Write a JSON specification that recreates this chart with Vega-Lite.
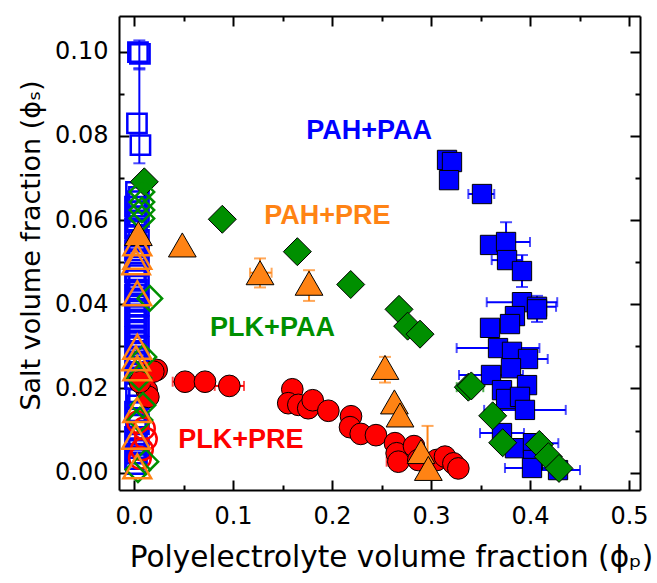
{
  "$schema": "https://vega.github.io/schema/vega-lite/v6.json",
  "width": 521,
  "height": 474,
  "autosize": {"type": "none"},
  "padding": {"left": 119, "top": 16, "right": 17, "bottom": 93},
  "background": "white",
  "config": {
    "view": {"stroke": null},
    "axis": {
      "domainColor": "black", "domainWidth": 2, "tickColor": "black", "tickWidth": 2,
      "labelFont": "DejaVu Sans", "labelFontSize": 24, "labelColor": "black",
      "titleFont": "DejaVu Sans", "titleFontSize": 28, "titleFontWeight": "normal", "titleColor": "black",
      "grid": false, "labelOverlap": false, "labelFlush": false
    }
  },
  "datasets": {
    "pts": [
      {"s":"PAH+PAA","o":0,"x":0.3162,"y":0.0743},{"s":"PAH+PAA","o":0,"x":0.3212,"y":0.0738},{"s":"PAH+PAA","o":0,"x":0.3182,"y":0.0695},
      {"s":"PAH+PAA","o":0,"x":0.3515,"y":0.0662},{"s":"PAH+PAA","o":0,"x":0.3596,"y":0.0541},{"s":"PAH+PAA","o":0,"x":0.3758,"y":0.0548},
      {"s":"PAH+PAA","o":0,"x":0.3768,"y":0.0505},{"s":"PAH+PAA","o":0,"x":0.3919,"y":0.0479},{"s":"PAH+PAA","o":0,"x":0.3919,"y":0.0405},
      {"s":"PAH+PAA","o":0,"x":0.4071,"y":0.0394},{"s":"PAH+PAA","o":0,"x":0.4071,"y":0.0388},{"s":"PAH+PAA","o":0,"x":0.3848,"y":0.0372},
      {"s":"PAH+PAA","o":0,"x":0.3596,"y":0.0344},{"s":"PAH+PAA","o":0,"x":0.3798,"y":0.0353},{"s":"PAH+PAA","o":0,"x":0.3677,"y":0.0296},
      {"s":"PAH+PAA","o":0,"x":0.3818,"y":0.0287},{"s":"PAH+PAA","o":0,"x":0.398,"y":0.027},{"s":"PAH+PAA","o":0,"x":0.3808,"y":0.0248},
      {"s":"PAH+PAA","o":0,"x":0.3606,"y":0.0232},{"s":"PAH+PAA","o":0,"x":0.397,"y":0.0208},{"s":"PAH+PAA","o":0,"x":0.3717,"y":0.0196},
      {"s":"PAH+PAA","o":0,"x":0.3758,"y":0.0175},{"s":"PAH+PAA","o":0,"x":0.3899,"y":0.018},{"s":"PAH+PAA","o":0,"x":0.3949,"y":0.0149},
      {"s":"PAH+PAA","o":0,"x":0.3717,"y":0.0094},{"s":"PAH+PAA","o":0,"x":0.3848,"y":0.0058},{"s":"PAH+PAA","o":0,"x":0.403,"y":0.007},
      {"s":"PAH+PAA","o":0,"x":0.403,"y":0.003},{"s":"PAH+PAA","o":0,"x":0.402,"y":0.0011},{"s":"PAH+PAA","o":0,"x":0.4283,"y":0.0006},
      {"s":"PAH+PAA","o":1,"x":0.004,"y":0.0999},{"s":"PAH+PAA","o":1,"x":0.006,"y":0.0995},{"s":"PAH+PAA","o":1,"x":0.003,"y":0.083},
      {"s":"PAH+PAA","o":1,"x":0.0065,"y":0.0778},{"s":"PAH+PAA","o":1,"x":0.002,"y":0.0667},{"s":"PAH+PAA","o":1,"x":0.003,"y":0.0645},
      {"s":"PAH+PAA","o":1,"x":0.002,"y":0.062},{"s":"PAH+PAA","o":1,"x":0.003,"y":0.0595},{"s":"PAH+PAA","o":1,"x":0.002,"y":0.0565},
      {"s":"PAH+PAA","o":1,"x":0.003,"y":0.054},{"s":"PAH+PAA","o":1,"x":0.002,"y":0.0515},{"s":"PAH+PAA","o":1,"x":0.003,"y":0.049},
      {"s":"PAH+PAA","o":1,"x":0.002,"y":0.046},{"s":"PAH+PAA","o":1,"x":0.003,"y":0.0435},{"s":"PAH+PAA","o":1,"x":0.002,"y":0.041},
      {"s":"PAH+PAA","o":1,"x":0.003,"y":0.0385},{"s":"PAH+PAA","o":1,"x":0.002,"y":0.036},{"s":"PAH+PAA","o":1,"x":0.003,"y":0.0335},
      {"s":"PAH+PAA","o":1,"x":0.002,"y":0.031},{"s":"PAH+PAA","o":1,"x":0.003,"y":0.0285},{"s":"PAH+PAA","o":1,"x":0.002,"y":0.026},
      {"s":"PAH+PAA","o":1,"x":0.003,"y":0.0235},{"s":"PAH+PAA","o":1,"x":0.002,"y":0.019},{"s":"PAH+PAA","o":1,"x":0.003,"y":0.016},
      {"s":"PAH+PAA","o":1,"x":0.002,"y":0.013},{"s":"PAH+PAA","o":1,"x":0.003,"y":0.01},{"s":"PAH+PAA","o":1,"x":0.002,"y":0.007},
      {"s":"PAH+PAA","o":1,"x":0.003,"y":0.0045},{"s":"PAH+PAA","o":1,"x":0.002,"y":0.002},
      {"s":"PAH+PAA","o":1,"x":0.005,"y":0.0655},{"s":"PAH+PAA","o":1,"x":0.001,"y":0.0632},{"s":"PAH+PAA","o":1,"x":0.005,"y":0.0608},
      {"s":"PAH+PAA","o":1,"x":0.001,"y":0.058},{"s":"PAH+PAA","o":1,"x":0.005,"y":0.0553},{"s":"PAH+PAA","o":1,"x":0.001,"y":0.0528},
      {"s":"PAH+PAA","o":1,"x":0.005,"y":0.0503},{"s":"PAH+PAA","o":1,"x":0.001,"y":0.0475},{"s":"PAH+PAA","o":1,"x":0.005,"y":0.0448},
      {"s":"PAH+PAA","o":1,"x":0.001,"y":0.0422},{"s":"PAH+PAA","o":1,"x":0.005,"y":0.0397},{"s":"PAH+PAA","o":1,"x":0.001,"y":0.0372},
      {"s":"PAH+PAA","o":1,"x":0.005,"y":0.0348},{"s":"PAH+PAA","o":1,"x":0.001,"y":0.0322},{"s":"PAH+PAA","o":1,"x":0.005,"y":0.0298},
      {"s":"PAH+PAA","o":1,"x":0.001,"y":0.0272},{"s":"PAH+PAA","o":1,"x":0.005,"y":0.0248},{"s":"PAH+PAA","o":1,"x":0.001,"y":0.0222},
      {"s":"PAH+PAA","o":1,"x":0.005,"y":0.0175},{"s":"PAH+PAA","o":1,"x":0.001,"y":0.0145},{"s":"PAH+PAA","o":1,"x":0.005,"y":0.0115},
      {"s":"PAH+PAA","o":1,"x":0.001,"y":0.0085},{"s":"PAH+PAA","o":1,"x":0.005,"y":0.0058},{"s":"PAH+PAA","o":1,"x":0.001,"y":0.0032},
      {"s":"PLK+PRE","o":0,"x":0.0515,"y":0.0216},{"s":"PLK+PRE","o":0,"x":0.0717,"y":0.0216},{"s":"PLK+PRE","o":0,"x":0.0963,"y":0.0206},
      {"s":"PLK+PRE","o":0,"x":0.1599,"y":0.0198},{"s":"PLK+PRE","o":0,"x":0.1558,"y":0.0165},{"s":"PLK+PRE","o":0,"x":0.166,"y":0.0161},
      {"s":"PLK+PRE","o":0,"x":0.176,"y":0.0153},{"s":"PLK+PRE","o":0,"x":0.1805,"y":0.0172},{"s":"PLK+PRE","o":0,"x":0.1963,"y":0.0147},
      {"s":"PLK+PRE","o":0,"x":0.2192,"y":0.0134},{"s":"PLK+PRE","o":0,"x":0.2182,"y":0.0108},{"s":"PLK+PRE","o":0,"x":0.229,"y":0.0092},
      {"s":"PLK+PRE","o":0,"x":0.2444,"y":0.0089},{"s":"PLK+PRE","o":0,"x":0.2636,"y":0.007},{"s":"PLK+PRE","o":0,"x":0.2653,"y":0.0046},
      {"s":"PLK+PRE","o":0,"x":0.267,"y":0.0026},{"s":"PLK+PRE","o":0,"x":0.2828,"y":0.0063},{"s":"PLK+PRE","o":0,"x":0.2872,"y":0.003},
      {"s":"PLK+PRE","o":0,"x":0.3057,"y":0.003},{"s":"PLK+PRE","o":0,"x":0.3141,"y":0.0038},{"s":"PLK+PRE","o":0,"x":0.3226,"y":0.0022},
      {"s":"PLK+PRE","o":0,"x":0.3276,"y":0.001},{"s":"PLK+PRE","o":0,"x":0.0229,"y":0.0244},{"s":"PLK+PRE","o":0,"x":0.0195,"y":0.024},
      {"s":"PLK+PRE","o":0,"x":0.0128,"y":0.0196},{"s":"PLK+PRE","o":0,"x":0.0145,"y":0.018},{"s":"PLK+PRE","o":0,"x":0.006,"y":0.0215},
      {"s":"PLK+PRE","o":1,"x":0.01,"y":0.0105},{"s":"PLK+PRE","o":1,"x":0.012,"y":0.008},{"s":"PLK+PRE","o":1,"x":0.008,"y":0.0055},
      {"s":"PLK+PRE","o":1,"x":0.004,"y":0.012},{"s":"PLK+PRE","o":1,"x":0.006,"y":0.0035},{"s":"PLK+PRE","o":1,"x":0.011,"y":0.0235},
      {"s":"PLK+PAA","o":0,"x":0.0104,"y":0.0691},{"s":"PLK+PAA","o":0,"x":0.0892,"y":0.0602},{"s":"PLK+PAA","o":0,"x":0.165,"y":0.0525},
      {"s":"PLK+PAA","o":0,"x":0.2189,"y":0.0447},{"s":"PLK+PAA","o":0,"x":0.2677,"y":0.0388},{"s":"PLK+PAA","o":0,"x":0.2764,"y":0.0348},
      {"s":"PLK+PAA","o":0,"x":0.2889,"y":0.0329},{"s":"PLK+PAA","o":0,"x":0.3377,"y":0.0203},{"s":"PLK+PAA","o":0,"x":0.3407,"y":0.0206},
      {"s":"PLK+PAA","o":0,"x":0.3623,"y":0.0135},{"s":"PLK+PAA","o":0,"x":0.3724,"y":0.0071},{"s":"PLK+PAA","o":0,"x":0.4094,"y":0.0067},
      {"s":"PLK+PAA","o":0,"x":0.4185,"y":0.0038},{"s":"PLK+PAA","o":0,"x":0.4293,"y":0.001},
      {"s":"PLK+PAA","o":1,"x":0.008,"y":0.0667},{"s":"PLK+PAA","o":1,"x":0.008,"y":0.0643},{"s":"PLK+PAA","o":1,"x":0.008,"y":0.0624},
      {"s":"PLK+PAA","o":1,"x":0.008,"y":0.0604},{"s":"PLK+PAA","o":1,"x":0.016,"y":0.0414},{"s":"PLK+PAA","o":1,"x":0.01,"y":0.0275},
      {"s":"PLK+PAA","o":1,"x":0.009,"y":0.016},{"s":"PLK+PAA","o":1,"x":0.012,"y":0.0026},{"s":"PLK+PAA","o":1,"x":0.004,"y":0.0007},
      {"s":"PLK+PAA","o":1,"x":0.006,"y":0.0125},{"s":"PLK+PAA","o":1,"x":0.005,"y":0.0225},
      {"s":"PAH+PRE","o":0,"x":0.0044,"y":0.0568},{"s":"PAH+PRE","o":0,"x":0.0488,"y":0.0541},{"s":"PAH+PRE","o":0,"x":0.1273,"y":0.0475},
      {"s":"PAH+PRE","o":0,"x":0.1768,"y":0.045},{"s":"PAH+PRE","o":0,"x":0.2535,"y":0.025},{"s":"PAH+PRE","o":0,"x":0.263,"y":0.0168},
      {"s":"PAH+PRE","o":0,"x":0.2687,"y":0.0137},{"s":"PAH+PRE","o":0,"x":0.2899,"y":0.005},{"s":"PAH+PRE","o":0,"x":0.2973,"y":0.001},
      {"s":"PAH+PRE","o":1,"x":0.0033,"y":0.0545},{"s":"PAH+PRE","o":1,"x":0.0033,"y":0.0513},{"s":"PAH+PRE","o":1,"x":0.002,"y":0.05},
      {"s":"PAH+PRE","o":1,"x":0.0033,"y":0.0426},{"s":"PAH+PRE","o":1,"x":0.0033,"y":0.0299},{"s":"PAH+PRE","o":1,"x":0.002,"y":0.0272},
      {"s":"PAH+PRE","o":1,"x":0.0033,"y":0.0248},{"s":"PAH+PRE","o":1,"x":0.0033,"y":0.0149},{"s":"PAH+PRE","o":1,"x":0.002,"y":0.0085},
      {"s":"PAH+PRE","o":1,"x":0.0033,"y":0.0015}
    ],
    "xe": [
      {"s":"PAH+PAA","y":0.0662,"lo":0.3377,"hi":0.3639},{"s":"PAH+PAA","y":0.0548,"lo":0.3516,"hi":0.4},
      {"s":"PAH+PAA","y":0.0505,"lo":0.3613,"hi":0.3923},{"s":"PAH+PAA","y":0.0405,"lo":0.3563,"hi":0.4275},
      {"s":"PAH+PAA","y":0.0394,"lo":0.3879,"hi":0.4263},{"s":"PAH+PAA","y":0.0296,"lo":0.3259,"hi":0.4095},
      {"s":"PAH+PAA","y":0.027,"lo":0.3781,"hi":0.4179},{"s":"PAH+PAA","y":0.0232,"lo":0.3283,"hi":0.3929},
      {"s":"PAH+PAA","y":0.0149,"lo":0.3537,"hi":0.4361},{"s":"PAH+PAA","y":0.0094,"lo":0.3495,"hi":0.3939},
      {"s":"PAH+PAA","y":0.007,"lo":0.3774,"hi":0.4286},{"s":"PAH+PAA","y":0.0011,"lo":0.3747,"hi":0.4293},
      {"s":"PAH+PAA","y":0.0006,"lo":0.4061,"hi":0.4505},{"s":"PLK+PAA","y":0.0203,"lo":0.326,"hi":0.3528},
      {"s":"PAH+PRE","y":0.0475,"lo":0.1172,"hi":0.139},{"s":"PLK+PRE","y":0.0216,"lo":0.0391,"hi":0.0639},
      {"s":"PLK+PRE","y":0.0206,"lo":0.0815,"hi":0.1111},{"s":"PLK+PRE","y":0.0026,"lo":0.2552,"hi":0.2788}
    ],
    "ye": [
      {"s":"PAH+PAA","x":0.3758,"lo":0.0501,"hi":0.0595},{"s":"PAH+PAA","x":0.3919,"lo":0.0441,"hi":0.0517},
      {"s":"PAH+PAA","x":0.4071,"lo":0.0358,"hi":0.042},{"s":"PAH+PAA","x":0.0054,"lo":0.0958,"hi":0.1027},
      {"s":"PAH+PAA","x":0.0054,"lo":0.0735,"hi":0.0961},{"s":"PAH+PRE","x":0.1273,"lo":0.044,"hi":0.0509},
      {"s":"PAH+PRE","x":0.1768,"lo":0.0408,"hi":0.0481},{"s":"PAH+PRE","x":0.2535,"lo":0.0214,"hi":0.0275},
      {"s":"PAH+PRE","x":0.2965,"lo":0.0,"hi":0.0111}
    ],
    "lab": [
      {"t":"PAH+PAA","x":0.2374,"y":0.0811},{"t":"PAH+PRE","x":0.1953,"y":0.0609},
      {"t":"PLK+PAA","x":0.1399,"y":0.0343},{"t":"PLK+PRE","x":0.1079,"y":0.0078}
    ]
  },
  "resolve": {"axis": {"x": "independent", "y": "independent"}},
  "layer": [
    {
      "data": {"name": "xe"},
      "mark": {"type": "rule", "strokeWidth": 2},
      "encoding": {
        "x": {"field": "lo", "type": "quantitative", "scale": {"domain": [-0.01515, 0.5111], "nice": false, "zero": false}, "axis": null},
        "x2": {"field": "hi"},
        "y": {"field": "y", "type": "quantitative", "scale": {"domain": [-0.00413, 0.1085], "nice": false, "zero": false}, "axis": null},
        "color": {"field": "s", "type": "nominal", "legend": null, "scale": {"domain": ["PAH+PAA","PAH+PRE","PLK+PAA","PLK+PRE"], "range": ["#0000FF","#FF8314","#008F00","#FF0000"]}}
      }
    },
    {
      "data": {"name": "xe"},
      "mark": {"type": "tick", "orient": "vertical", "size": 10, "thickness": 2},
      "encoding": {
        "x": {"field": "lo", "type": "quantitative", "scale": {"domain": [-0.01515, 0.5111], "nice": false, "zero": false}, "axis": null},
        "y": {"field": "y", "type": "quantitative", "scale": {"domain": [-0.00413, 0.1085], "nice": false, "zero": false}, "axis": null},
        "color": {"field": "s", "type": "nominal", "legend": null, "scale": {"domain": ["PAH+PAA","PAH+PRE","PLK+PAA","PLK+PRE"], "range": ["#0000FF","#FF8314","#008F00","#FF0000"]}}
      }
    },
    {
      "data": {"name": "xe"},
      "mark": {"type": "tick", "orient": "vertical", "size": 10, "thickness": 2},
      "encoding": {
        "x": {"field": "hi", "type": "quantitative", "scale": {"domain": [-0.01515, 0.5111], "nice": false, "zero": false}, "axis": null},
        "y": {"field": "y", "type": "quantitative", "scale": {"domain": [-0.00413, 0.1085], "nice": false, "zero": false}, "axis": null},
        "color": {"field": "s", "type": "nominal", "legend": null, "scale": {"domain": ["PAH+PAA","PAH+PRE","PLK+PAA","PLK+PRE"], "range": ["#0000FF","#FF8314","#008F00","#FF0000"]}}
      }
    },
    {
      "data": {"name": "ye"},
      "mark": {"type": "rule", "strokeWidth": 2},
      "encoding": {
        "x": {"field": "x", "type": "quantitative", "scale": {"domain": [-0.01515, 0.5111], "nice": false, "zero": false}, "axis": null},
        "y": {"field": "lo", "type": "quantitative", "scale": {"domain": [-0.00413, 0.1085], "nice": false, "zero": false}, "axis": null},
        "y2": {"field": "hi"},
        "color": {"field": "s", "type": "nominal", "legend": null, "scale": {"domain": ["PAH+PAA","PAH+PRE","PLK+PAA","PLK+PRE"], "range": ["#0000FF","#FF8314","#008F00","#FF0000"]}}
      }
    },
    {
      "data": {"name": "ye"},
      "mark": {"type": "tick", "orient": "horizontal", "size": 12, "thickness": 2},
      "encoding": {
        "x": {"field": "x", "type": "quantitative", "scale": {"domain": [-0.01515, 0.5111], "nice": false, "zero": false}, "axis": null},
        "y": {"field": "lo", "type": "quantitative", "scale": {"domain": [-0.00413, 0.1085], "nice": false, "zero": false}, "axis": null},
        "color": {"field": "s", "type": "nominal", "legend": null, "scale": {"domain": ["PAH+PAA","PAH+PRE","PLK+PAA","PLK+PRE"], "range": ["#0000FF","#FF8314","#008F00","#FF0000"]}}
      }
    },
    {
      "data": {"name": "ye"},
      "mark": {"type": "tick", "orient": "horizontal", "size": 12, "thickness": 2},
      "encoding": {
        "x": {"field": "x", "type": "quantitative", "scale": {"domain": [-0.01515, 0.5111], "nice": false, "zero": false}, "axis": null},
        "y": {"field": "hi", "type": "quantitative", "scale": {"domain": [-0.00413, 0.1085], "nice": false, "zero": false}, "axis": null},
        "color": {"field": "s", "type": "nominal", "legend": null, "scale": {"domain": ["PAH+PAA","PAH+PRE","PLK+PAA","PLK+PRE"], "range": ["#0000FF","#FF8314","#008F00","#FF0000"]}}
      }
    },
    {
      "data": {"name": "pts"},
      "transform": [{"filter": "datum.s == 'PAH+PAA' && datum.o == 0"}],
      "mark": {"type": "point", "shape": "square", "size": 373, "filled": true, "fill": "#0000FF", "stroke": "black", "strokeWidth": 1, "opacity": 1},
      "encoding": {
        "x": {"field": "x", "type": "quantitative", "scale": {"domain": [-0.01515, 0.5111], "nice": false, "zero": false},
          "axis": {"orient": "bottom", "values": [0,0.05,0.1,0.15,0.2,0.25,0.3,0.35,0.4,0.45,0.5],
            "labelExpr": "abs(datum.value*10-round(datum.value*10))<0.001 ? format(datum.value,'.1f') : ''",
            "tickSize": {"condition": {"test": "abs(datum.value*10-round(datum.value*10))<0.001", "value": -10}, "value": -5},
            "labelPadding": 24, "title": "Polyelectrolyte volume fraction (ϕₚ)", "titleFontSize": 29.5, "titlePadding": 10, "titleX": 272}},
        "y": {"field": "y", "type": "quantitative", "scale": {"domain": [-0.00413, 0.1085], "nice": false, "zero": false},
          "axis": {"orient": "left", "values": [0,0.01,0.02,0.03,0.04,0.05,0.06,0.07,0.08,0.09,0.1],
            "labelExpr": "abs(datum.value*50-round(datum.value*50))<0.001 ? format(datum.value,'.2f') : ''",
            "tickSize": {"condition": {"test": "abs(datum.value*50-round(datum.value*50))<0.001", "value": -10}, "value": -5},
            "labelPadding": 21, "title": "Salt volume fraction (ϕₛ)", "titleFontSize": 27, "titlePadding": 9, "titleY": 229}}
      }
    },
    {
      "data": {"name": "pts"},
      "transform": [{"filter": "datum.s == 'PAH+PAA' && datum.o == 1"}],
      "mark": {"type": "point", "shape": "square", "size": 373, "filled": false, "stroke": "#0000FF", "strokeWidth": 2.5, "opacity": 1},
      "encoding": {
        "x": {"field": "x", "type": "quantitative", "scale": {"domain": [-0.01515, 0.5111], "nice": false, "zero": false}, "axis": null},
        "y": {"field": "y", "type": "quantitative", "scale": {"domain": [-0.00413, 0.1085], "nice": false, "zero": false}, "axis": null}
      }
    },
    {
      "data": {"name": "pts"},
      "transform": [{"filter": "datum.s == 'PLK+PRE' && datum.o == 0"}],
      "mark": {"type": "point", "shape": "circle", "size": 470, "filled": true, "fill": "#FF0000", "stroke": "black", "strokeWidth": 1, "opacity": 1},
      "encoding": {
        "x": {"field": "x", "type": "quantitative", "scale": {"domain": [-0.01515, 0.5111], "nice": false, "zero": false}, "axis": null},
        "y": {"field": "y", "type": "quantitative", "scale": {"domain": [-0.00413, 0.1085], "nice": false, "zero": false}, "axis": null}
      }
    },
    {
      "data": {"name": "pts"},
      "transform": [{"filter": "datum.s == 'PLK+PRE' && datum.o == 1"}],
      "mark": {"type": "point", "shape": "circle", "size": 470, "filled": false, "stroke": "#FF0000", "strokeWidth": 2.5, "opacity": 1},
      "encoding": {
        "x": {"field": "x", "type": "quantitative", "scale": {"domain": [-0.01515, 0.5111], "nice": false, "zero": false}, "axis": null},
        "y": {"field": "y", "type": "quantitative", "scale": {"domain": [-0.00413, 0.1085], "nice": false, "zero": false}, "axis": null}
      }
    },
    {
      "data": {"name": "pts"},
      "transform": [{"filter": "datum.s == 'PLK+PAA' && datum.o == 0"}],
      "mark": {"type": "point", "shape": "diamond", "size": 784, "filled": true, "fill": "#008F00", "stroke": "black", "strokeWidth": 1, "opacity": 1},
      "encoding": {
        "x": {"field": "x", "type": "quantitative", "scale": {"domain": [-0.01515, 0.5111], "nice": false, "zero": false}, "axis": null},
        "y": {"field": "y", "type": "quantitative", "scale": {"domain": [-0.00413, 0.1085], "nice": false, "zero": false}, "axis": null}
      }
    },
    {
      "data": {"name": "pts"},
      "transform": [{"filter": "datum.s == 'PLK+PAA' && datum.o == 1"}],
      "mark": {"type": "point", "shape": "diamond", "size": 600, "filled": false, "stroke": "#008F00", "strokeWidth": 2.5, "opacity": 1},
      "encoding": {
        "x": {"field": "x", "type": "quantitative", "scale": {"domain": [-0.01515, 0.5111], "nice": false, "zero": false}, "axis": null},
        "y": {"field": "y", "type": "quantitative", "scale": {"domain": [-0.00413, 0.1085], "nice": false, "zero": false}, "axis": null}
      }
    },
    {
      "data": {"name": "pts"},
      "transform": [{"filter": "datum.s == 'PAH+PRE' && datum.o == 0"}],
      "mark": {"type": "point", "shape": "triangle-up", "size": 770, "filled": true, "fill": "#FF8314", "stroke": "black", "strokeWidth": 1, "opacity": 1},
      "encoding": {
        "x": {"field": "x", "type": "quantitative", "scale": {"domain": [-0.01515, 0.5111], "nice": false, "zero": false}, "axis": null},
        "y": {"field": "y", "type": "quantitative", "scale": {"domain": [-0.00413, 0.1085], "nice": false, "zero": false}, "axis": null}
      }
    },
    {
      "data": {"name": "pts"},
      "transform": [{"filter": "datum.s == 'PAH+PRE' && datum.o == 1"}],
      "mark": {"type": "point", "shape": "triangle-up", "size": 770, "filled": false, "stroke": "#FF8314", "strokeWidth": 2.5, "opacity": 1},
      "encoding": {
        "x": {"field": "x", "type": "quantitative", "scale": {"domain": [-0.01515, 0.5111], "nice": false, "zero": false}, "axis": null},
        "y": {"field": "y", "type": "quantitative", "scale": {"domain": [-0.00413, 0.1085], "nice": false, "zero": false}, "axis": null}
      }
    },
    {
      "data": {"name": "lab"},
      "mark": {"type": "text", "font": "Liberation Sans", "fontSize": 27, "fontWeight": "bold", "align": "center", "baseline": "middle"},
      "encoding": {
        "x": {"field": "x", "type": "quantitative", "scale": {"domain": [-0.01515, 0.5111], "nice": false, "zero": false},
          "axis": {"orient": "top", "values": [0,0.05,0.1,0.15,0.2,0.25,0.3,0.35,0.4,0.45,0.5], "labels": false, "title": null,
            "tickSize": {"condition": {"test": "abs(datum.value*10-round(datum.value*10))<0.001", "value": -10}, "value": -5}}},
        "y": {"field": "y", "type": "quantitative", "scale": {"domain": [-0.00413, 0.1085], "nice": false, "zero": false},
          "axis": {"orient": "right", "values": [0,0.01,0.02,0.03,0.04,0.05,0.06,0.07,0.08,0.09,0.1], "labels": false, "title": null,
            "tickSize": {"condition": {"test": "abs(datum.value*50-round(datum.value*50))<0.001", "value": -10}, "value": -5}}},
        "text": {"field": "t"},
        "color": {"field": "t", "type": "nominal", "legend": null, "scale": {"domain": ["PAH+PAA","PAH+PRE","PLK+PAA","PLK+PRE"], "range": ["#0000FF","#FF8314","#009A00","#FF0000"]}}
      }
    }
  ]
}
